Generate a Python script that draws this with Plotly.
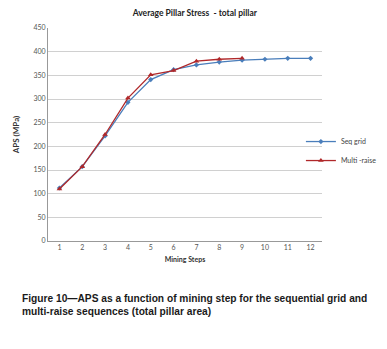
import plotly.graph_objects as go

steps = ["1", "2", "3", "4", "5", "6", "7", "8", "9", "10", "11", "12"]
seq_grid = [112, 157, 222, 293, 341, 362, 372, 378, 382, 384, 386, 386]
multi_steps = ["1", "2", "3", "4", "5", "6", "7", "8", "9"]
multi_raise = [110, 157, 225, 302, 351, 360, 380, 384, 386]
y_ticks = [0, 50, 100, 150, 200, 250, 300, 350, 400, 450]
caption_lines = ["Figure 10—APS as a function of mining step for the sequential grid and",
                 "multi-raise sequences (total pillar area)"]

fig = go.Figure()
fig.add_trace(go.Scatter(x=steps, y=seq_grid, name="Seq grid", mode="lines+markers",
                         line=dict(color="#4a7ebb", width=1.3),
                         marker=dict(symbol="diamond", size=4, color="#4a7ebb")))
fig.add_trace(go.Scatter(x=multi_steps, y=multi_raise, name="Multi -raise", mode="lines+markers",
                         line=dict(color="#b0282a", width=1.3),
                         marker=dict(symbol="triangle-up", size=5, color="#b0282a")))

fig.update_layout(
    width=379, height=341,
    margin=dict(l=40, r=65, t=20, b=108, autoexpand=False),
    paper_bgcolor="white", plot_bgcolor="white",
    font=dict(family="Lato, Open Sans, sans-serif", size=8, color="#444"),
    title=dict(text="<b>Average Pillar Stress  - total pillar</b>", x=0.493, xanchor="center",
               y=0.985, yanchor="middle", font=dict(size=8.5, color="#222")),
    legend=dict(x=0.923, y=0.535, xanchor="left", yanchor="top", font=dict(size=7, color="#444"),
                bgcolor="rgba(0,0,0,0)", itemwidth=30, tracegroupgap=0),
    showlegend=True,
)
fig.update_xaxes(type="category", range=[-0.5, 11.5], showgrid=False, showline=True,
                 linecolor="#999", linewidth=1, ticks="", tickfont=dict(size=7, color="#555"),
                 title=dict(text="<b>Mining Steps</b>", font=dict(size=7, color="#333"), standoff=6))
fig.update_yaxes(range=[0, 450], tickvals=y_ticks, showgrid=True, gridcolor="#d0d0d0",
                 showline=True, linecolor="#999", linewidth=1, zeroline=False, ticks="",
                 tickfont=dict(size=7, color="#555"),
                 title=dict(text="<b>APS (MPa)</b>", font=dict(size=8, color="#333"), standoff=12))

cap_font = dict(family="Liberation Sans, Arial, sans-serif", size=10.2, color="#1a1a1a")
fig.add_annotation(text="<b>" + caption_lines[0] + "</b>", xref="paper", yref="paper",
                   x=-0.102, y=-0.2723, xanchor="left", yanchor="middle", showarrow=False, font=cap_font)
fig.add_annotation(text="<b>" + caption_lines[1] + "</b>", xref="paper", yref="paper",
                   x=-0.102, y=-0.3333, xanchor="left", yanchor="middle", showarrow=False, font=cap_font)
fig.write_html("out.html")
